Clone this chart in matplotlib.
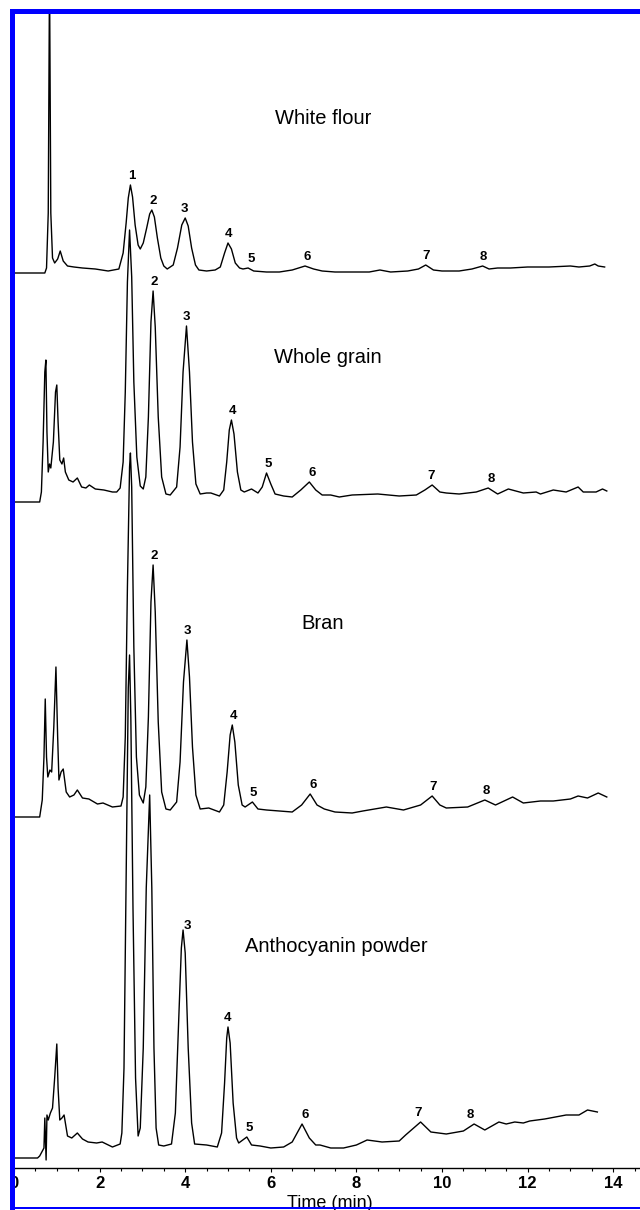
import numpy as np
import matplotlib
matplotlib.use("Agg")
import matplotlib.pyplot as plt
from matplotlib.patches import Rectangle
from matplotlib.ticker import MultipleLocator

plt.rcParams['font.family'] = ['Liberation Sans', 'DejaVu Sans']

# ---------------- data (time in min, detector signal above each trace's own baseline) -------------
wf_t = [0, 0.72, 0.76, 0.80, 0.83, 0.86, 0.90, 0.95, 1.02, 1.08, 1.15, 1.25, 1.4, 1.6, 1.9, 2.2, 2.45, 2.55,
        2.62, 2.67, 2.72, 2.77, 2.83, 2.90, 2.95, 3.02, 3.10, 3.17, 3.22, 3.28, 3.35, 3.43, 3.50, 3.58, 3.72,
        3.82, 3.92, 4.0, 4.07, 4.15, 4.24, 4.32, 4.5, 4.7, 4.82, 4.92, 5.0, 5.08, 5.17, 5.27, 5.35, 5.47, 5.6,
        5.9, 6.2, 6.5, 6.8, 7.0, 7.2, 7.5, 7.9, 8.3, 8.55, 8.8, 9.2, 9.45, 9.62, 9.8, 10.0, 10.4, 10.7, 10.95,
        11.1, 11.3, 11.6, 12.0, 12.5, 13.0, 13.2, 13.45, 13.57, 13.65, 13.8]
wf_v = [0, 0, 5, 60, 300, 60, 15, 10, 14, 22, 12, 7, 6, 5, 4, 2, 4, 20, 50, 75, 88, 76, 48, 28, 24, 30, 45, 59,
        63, 56, 35, 15, 7, 4, 8, 25, 48, 55, 47, 25, 8, 3, 2, 3, 6, 20, 30, 24, 10, 5, 4, 5, 2, 1, 1, 3, 7, 4,
        2, 1, 1, 1, 3, 1, 2, 4, 8, 3, 2, 2, 4, 7, 4, 5, 5, 6, 6, 7, 6, 7, 9, 7, 6]

wg_t = [0, 0.6, 0.64, 0.68, 0.72, 0.745, 0.77, 0.80, 0.83, 0.86, 0.92, 0.97, 1.0, 1.03, 1.07, 1.12, 1.16, 1.2,
        1.28, 1.38, 1.48, 1.58, 1.68, 1.76, 1.9, 2.1, 2.3, 2.4, 2.48, 2.55, 2.6, 2.65, 2.7, 2.75, 2.8, 2.87,
        2.95, 3.02, 3.08, 3.14, 3.2, 3.25, 3.3, 3.37, 3.45, 3.55, 3.65, 3.8, 3.88, 3.95, 4.03, 4.1, 4.17, 4.25,
        4.35, 4.5, 4.6, 4.8, 4.9, 4.97, 5.03, 5.08, 5.14, 5.22, 5.3, 5.38, 5.55, 5.7, 5.8, 5.9, 6.0, 6.1, 6.3,
        6.5, 6.7, 6.9, 7.05, 7.2, 7.4, 7.6, 7.9, 8.5, 9.0, 9.4, 9.6, 9.77, 9.95, 10.1, 10.4, 10.8, 11.08, 11.3,
        11.55, 11.9, 12.2, 12.3, 12.6, 12.9, 13.18, 13.3, 13.6, 13.75, 13.85]
wg_v = [0, 0, 10, 60, 130, 142, 70, 30, 38, 34, 60, 110, 117, 80, 42, 38, 44, 30, 22, 20, 24, 15, 14, 17, 13,
        12, 10, 10, 14, 40, 110, 220, 272, 225, 120, 45, 16, 13, 25, 85, 180, 211, 175, 85, 25, 8, 7, 15, 55,
        130, 176, 130, 60, 18, 8, 9, 9, 6, 12, 40, 72, 82, 68, 30, 12, 10, 13, 9, 15, 29, 18, 8, 6, 5, 12, 20,
        12, 7, 7, 5, 7, 8, 6, 7, 12, 17, 10, 9, 8, 10, 14, 8, 13, 9, 10, 8, 12, 10, 15, 10, 10, 13, 11]

br_t = [0, 0.6, 0.66, 0.7, 0.73, 0.76, 0.79, 0.84, 0.88, 0.93, 0.98, 1.02, 1.05, 1.1, 1.15, 1.22, 1.3, 1.4,
        1.48, 1.6, 1.75, 1.95, 2.08, 2.3, 2.5, 2.55, 2.6, 2.65, 2.7, 2.72, 2.75, 2.8, 2.86, 2.93, 3.02, 3.08,
        3.14, 3.2, 3.25, 3.3, 3.37, 3.45, 3.55, 3.65, 3.8, 3.88, 3.96, 4.04, 4.1, 4.17, 4.25, 4.35, 4.55, 4.8,
        4.9, 4.98, 5.05, 5.1, 5.16, 5.24, 5.33, 5.4, 5.57, 5.7, 5.9, 6.2, 6.5, 6.72, 6.92, 7.08, 7.25, 7.5,
        7.9, 8.15, 8.7, 9.1, 9.5, 9.77, 9.95, 10.1, 10.6, 11.0, 11.25, 11.65, 11.9, 12.3, 12.6, 13.0, 13.18,
        13.4, 13.65, 13.85]
br_v = [0, 0, 17, 60, 118, 60, 40, 47, 45, 90, 150, 80, 37, 45, 48, 25, 20, 22, 27, 19, 18, 13, 14, 10, 11,
        20, 80, 230, 350, 364, 330, 170, 60, 22, 14, 30, 100, 215, 252, 205, 95, 25, 8, 7, 15, 55, 135, 177,
        140, 70, 22, 8, 9, 5, 12, 45, 82, 92, 75, 32, 12, 10, 15, 8, 7, 6, 5, 12, 23, 12, 8, 5, 4, 6, 10, 7,
        12, 21, 12, 9, 10, 17, 12, 20, 14, 16, 16, 18, 21, 19, 24, 20]

an_t = [0, 0.55, 0.6, 0.65, 0.7, 0.72, 0.75, 0.77, 0.8, 0.85, 0.9, 0.95, 1.0, 1.03, 1.07, 1.12, 1.17, 1.25,
        1.35, 1.48, 1.6, 1.73, 1.93, 2.06, 2.3, 2.48, 2.52, 2.57, 2.62, 2.67, 2.7, 2.73, 2.78, 2.84, 2.9, 2.95,
        3.02, 3.09, 3.17, 3.22, 3.27, 3.32, 3.38, 3.5, 3.68, 3.77, 3.85, 3.91, 3.95, 4.0, 4.07, 4.15, 4.22,
        4.5, 4.75, 4.85, 4.92, 4.97, 5.0, 5.05, 5.12, 5.2, 5.25, 5.44, 5.55, 5.75, 6.0, 6.3, 6.5, 6.73, 6.9,
        7.05, 7.15, 7.4, 7.7, 8.0, 8.25, 8.6, 9.0, 9.15, 9.5, 9.74, 10.1, 10.5, 10.75, 11.0, 11.33, 11.5,
        11.7, 11.9, 12.05, 12.4, 12.9, 13.2, 13.4, 13.63]
an_v = [0, 0, 2, 6, 10, 40, -2, 43, 38, 45, 50, 80, 114, 70, 38, 40, 43, 22, 20, 25, 19, 16, 15, 16, 11, 14,
        25, 90, 280, 470, 503, 440, 250, 80, 22, 30, 110, 270, 363, 270, 110, 30, 13, 12, 14, 45, 140, 210,
        228, 205, 110, 35, 14, 13, 11, 25, 75, 120, 131, 115, 55, 20, 15, 21, 13, 12, 10, 11, 16, 34, 20, 13,
        13, 10, 10, 13, 18, 16, 17, 23, 36, 26, 24, 27, 34, 28, 36, 34, 36, 35, 37, 39, 43, 43, 48, 46]

sample_names = ["White flour", "Whole grain", "Bran", "Anthocyanin powder"]

wf_peaks = ["1", "2", "3", "4", "5", "6", "7", "8"]
wf_peak_t = [2.75, 3.25, 3.98, 5.02, 5.55, 6.85, 9.62, 10.97]
wg_peaks = ["2", "3", "4", "5", "6", "7", "8"]
wg_peak_t = [3.27, 4.02, 5.1, 5.93, 6.96, 9.75, 11.15]
br_peaks = ["2", "3", "4", "5", "6", "7", "8"]
br_peak_t = [3.27, 4.04, 5.12, 5.6, 6.98, 9.8, 11.03]
an_peaks = ["3", "4", "5", "6", "7", "8"]
an_peak_t = [4.06, 5.0, 5.5, 6.8, 9.45, 10.65]

x_ticks = [0, 2, 4, 6, 8, 10, 12, 14]

# ---------------- layout ----------------
W, H = 640, 1210
PX_PER_MIN = 42.8
AX_LEFT, AX_TOP, AX_BOTTOM = 14, 14, 1168
offsets = [1168 - 273, 1168 - 502, 1168 - 817, 1168 - 1158]
name_pos = [(7.22, 1168 - 118), (7.34, 1168 - 357), (7.2, 1168 - 623), (7.52, 1168 - 947)]

fig = plt.figure(figsize=(W / 100, H / 100), dpi=100)
ax = fig.add_axes([AX_LEFT / W, (H - AX_BOTTOM) / H, (W - AX_LEFT) / W, (AX_BOTTOM - AX_TOP) / H])
ax.set_xlim(0, (W - AX_LEFT) / PX_PER_MIN)
ax.set_ylim(0, AX_BOTTOM - AX_TOP)

traces = [(wf_t, wf_v, wf_peaks, wf_peak_t), (wg_t, wg_v, wg_peaks, wg_peak_t),
          (br_t, br_v, br_peaks, br_peak_t), (an_t, an_v, an_peaks, an_peak_t)]

for (t, v, labs, lt), off, name, (nx, ny) in zip(traces, offsets, sample_names, name_pos):
    t = np.asarray(t, float)
    y = np.asarray(v, float) + off
    ax.plot(t, y, color='black', lw=1.0, solid_joinstyle='round')
    for lab, tp in zip(labs, lt):
        win = np.linspace(tp - 0.1, tp + 0.1, 21)
        top = np.interp(win, t, y).max()
        ax.text(tp, top + 3, lab, ha='center', va='bottom', fontsize=9.5, fontweight='bold')
    ax.text(nx, ny, name, ha='center', va='center', fontsize=14.5)

for s in ['left', 'right', 'top']:
    ax.spines[s].set_visible(False)
ax.spines['bottom'].set_linewidth(1.0)
ax.set_yticks([])
ax.set_xticks(x_ticks)
ax.xaxis.set_minor_locator(MultipleLocator(0.5))
ax.tick_params(axis='x', which='major', direction='out', length=3, width=0.8, labelsize=12, pad=3)
ax.tick_params(axis='x', which='minor', direction='out', length=2, width=0.8)
for lab in ax.get_xticklabels():
    lab.set_fontweight('bold')
ax.set_xlabel('Time (min)', fontsize=13)
ax.xaxis.set_label_coords((330 - AX_LEFT) / (W - AX_LEFT), -(1203 - AX_BOTTOM) / (AX_BOTTOM - AX_TOP))
ax.xaxis.label.set_va('center')

# blue frame
blue = '#0000ff'
fig.add_artist(Rectangle((10 / W, (H - 14) / H), (W - 10) / W, 5 / H, transform=fig.transFigure,
                         color=blue, zorder=10, lw=0))
fig.add_artist(Rectangle((10 / W, 0), 5 / W, (H - 9) / H, transform=fig.transFigure,
                         color=blue, zorder=10, lw=0))
fig.add_artist(Rectangle((10 / W, (H - 1209) / H), (W - 10) / W, 1.6 / H, transform=fig.transFigure,
                         color=blue, zorder=10, lw=0))

fig.savefig('out.png', dpi=100)
